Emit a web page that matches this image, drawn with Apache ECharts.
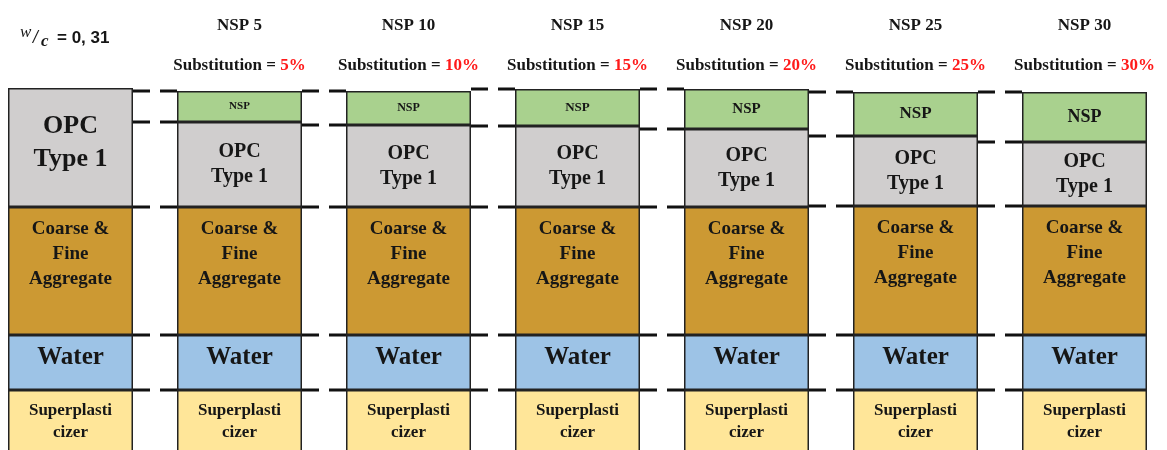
<!DOCTYPE html>
<html>
<head>
<meta charset="utf-8">
<script src="https://cdn.jsdelivr.net/npm/echarts@6/dist/echarts.min.js"></script>
<style>
  html, body { margin: 0; padding: 0; background: #fff; }
  #chart { width: 1167px; height: 450px; }
</style>
</head>
<body>
<div id="chart"></div>
<script>
// columns: reference mix + six NSP mixes
const categories = ['Ref', 'NSP 5', 'NSP 10', 'NSP 15', 'NSP 20', 'NSP 25', 'NSP 30'];
const substitution = [null, 5, 10, 15, 20, 25, 30];

// relative heights of each layer (bottom -> top)
const superplasticizer = [70, 70, 70, 70, 70, 70, 70];
const water = [55, 55, 55, 55, 55, 55, 55];
const aggregate = [128, 128, 128, 128, 128, 129, 129];
const opc = [119, 85, 82, 81, 78, 70, 64];
const nsp = [null, 31, 34, 37, 40, 44, 50];

// label size of the NSP layer grows with the layer
const nspLabelSize = [0, 11, 12, 13, 15, 17, 18];

const serif = '"Liberation Serif", "DejaVu Serif", serif';
const ink = '#161616';
const barW = 125;

const chart = echarts.init(document.getElementById('chart'));

// boundaries of each column (except the first), used for the dashed connectors
const levels = [];
for (let j = 1; j < categories.length; j++) {
    const s = superplasticizer[j], w = s + water[j], a = w + aggregate[j], o = a + opc[j];
    [s, w, a, o, o + (nsp[j] || 0)].forEach(v => levels.push([j, v]));
}

function layer(name, data, color, label) {
    return {
        name: name,
        type: 'bar',
        stack: 'mix',
        barWidth: barW,
        data: data,
        itemStyle: { color: color, borderColor: '#222', borderWidth: 1.5 },
        label: Object.assign({
            show: true,
            position: 'inside',
            color: ink,
            fontFamily: serif,
            fontWeight: 'bold'
        }, label),
        emphasis: { disabled: true },
        silent: true
    };
}

const option = {
    animation: false,
    grid: { left: -14, right: -2, top: 84, bottom: -10, outerBoundsMode: 'none', containLabel: false },
    xAxis: {
        type: 'category',
        position: 'top',
        data: categories,
        axisLine: { show: false },
        axisTick: { show: false },
        axisLabel: {
            margin: 2,
            interval: 0,
            formatter: function (val, idx) {
                if (substitution[idx] == null) return '';
                return '{t|' + val + '}\n{s|Substitution = }{r|' + substitution[idx] + '%}';
            },
            rich: {
                t: { fontFamily: serif, fontWeight: 'bold', fontSize: 17, color: ink, lineHeight: 48 },
                s: { fontFamily: serif, fontWeight: 'bold', fontSize: 17, color: ink, lineHeight: 32 },
                r: { fontFamily: serif, fontWeight: 'bold', fontSize: 17, color: '#ff1a1a', lineHeight: 32 }
            }
        }
    },
    yAxis: {
        type: 'value',
        min: 0,
        max: 376,
        show: false,
        splitLine: { show: false }
    },
    graphic: [
        { type: 'text', x: 20, y: 33, style: { text: 'w', font: 'italic 17px ' + serif, fill: ink, verticalAlign: 'middle' } },
        { type: 'text', x: 33, y: 38, style: { text: '/', font: 'italic bold 18px ' + serif, fill: ink, verticalAlign: 'middle' } },
        { type: 'text', x: 41, y: 42, style: { text: 'c', font: 'italic bold 17px ' + serif, fill: ink, verticalAlign: 'middle' } },
        { type: 'text', x: 57, y: 38, style: { text: '= 0, 31', font: 'bold 17px "Liberation Sans", sans-serif', fill: ink, verticalAlign: 'middle' } }
    ],
    series: [
        layer('Superplasticizer', superplasticizer, '#ffe699',
            { formatter: 'Superplasti\ncizer', fontSize: 17, lineHeight: 22, offset: [0, -3] }),
        layer('Water', water, '#9dc3e6',
            { formatter: 'Water', fontSize: 25, offset: [0, -5] }),
        layer('Aggregate', aggregate, '#cc9933',
            { formatter: 'Coarse &\nFine\nAggregate', fontSize: 19, lineHeight: 25, offset: [0, -17] }),
        layer('OPC', opc.map((v, i) => i === 0
            ? { value: v, label: { fontSize: 26, lineHeight: 33, offset: [0, -5] } }
            : v), '#d0cece',
            { formatter: 'OPC\nType 1', fontSize: 20, lineHeight: 25 }),
        layer('NSP', nsp.map((v, i) => v == null ? null : { value: v, label: { fontSize: nspLabelSize[i] } }),
            '#a9d18e', { formatter: 'NSP' }),
        {
            name: 'connectors',
            type: 'custom',
            silent: true,
            z: 3,
            data: levels,
            renderItem: function (params, api) {
                const p = api.coord([api.value(0), api.value(1)]);
                const band = api.size([1, 0])[0];
                return {
                    type: 'line',
                    shape: { x1: p[0] - band + barW / 2, y1: p[1], x2: p[0] - barW / 2, y2: p[1] },
                    style: { stroke: '#111', lineWidth: 3, lineDash: [17, 10] }
                };
            }
        }
    ]
};

chart.setOption(option);
window.addEventListener('resize', () => chart.resize());
</script>
</body>
</html>
